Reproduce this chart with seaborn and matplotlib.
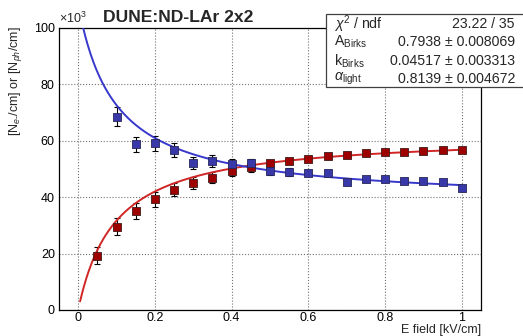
import numpy as np
import pandas as pd
import seaborn as sns
import matplotlib.pyplot as plt
from matplotlib.patches import Rectangle
from matplotlib.ticker import MultipleLocator

# measured points (values in units of 10^3 per cm)
e_red = [0.05, 0.10, 0.15, 0.20, 0.25, 0.30, 0.35, 0.40, 0.45, 0.50,
         0.55, 0.60, 0.65, 0.70, 0.75, 0.80, 0.85, 0.90, 0.95, 1.00]
n_elec = [19.3, 29.5, 35.1, 39.2, 42.6, 45.0, 46.9, 49.3, 50.6, 52.0,
          52.9, 53.7, 54.5, 55.1, 55.6, 55.9, 56.2, 56.5, 56.7, 56.8]
n_elec_err = [3.0, 3.0, 2.7, 2.6, 2.3, 2.1, 1.9, 1.7, 1.5, 1.3,
              1.1, 1.0, 0.9, 0.8, 0.8, 0.7, 0.7, 0.6, 0.6, 0.6]

e_blue = [0.10, 0.15, 0.20, 0.25, 0.30, 0.35, 0.40, 0.45, 0.50, 0.55,
          0.60, 0.65, 0.70, 0.75, 0.80, 0.85, 0.90, 0.95, 1.00]
n_phot = [68.5, 58.7, 59.1, 56.7, 52.2, 52.7, 51.8, 52.0, 49.3, 48.9,
          48.5, 48.5, 45.4, 46.3, 46.3, 45.9, 45.7, 45.3, 43.1]
n_phot_err = [3.4, 2.8, 2.6, 2.4, 2.2, 2.1, 1.9, 1.7, 1.5, 1.3,
              1.1, 1.0, 0.9, 0.8, 0.8, 0.7, 0.7, 0.6, 0.6]

# fit result (Birks-type recombination)
ne_max = 62.3
k_eff = 0.0965
nph_0 = 108.4
nph_slope = 70.3

stat_labels = [r"$\chi^{2}$ / ndf", r"A$_{\rm Birks}$", r"k$_{\rm Birks}$", r"$\alpha_{\rm light}$"]
stat_values = ["23.22 / 35", u"0.7938 \u00b1 0.008069", u"0.04517 \u00b1 0.003313", u"0.8139 \u00b1 0.004672"]

sns.set_style("white")
plt.rcParams['font.family'] = ['Liberation Sans', 'DejaVu Sans']
plt.rcParams['mathtext.fontset'] = 'custom'
plt.rcParams['mathtext.rm'] = 'Liberation Sans'
plt.rcParams['mathtext.it'] = 'Liberation Sans:italic'

W, H = 523, 336
fig = plt.figure(figsize=(W / 100, H / 100), dpi=100)
ax = fig.add_axes([59 / W, 1 - 310 / H, 422 / W, 282 / H])

e_fit = np.linspace(0.005, 1.0, 400)
frac = e_fit / (e_fit + k_eff)
df_fit = pd.DataFrame({"E": e_fit, "ne": ne_max * frac, "nph": nph_0 - nph_slope * frac})

blue_line = (0.22, 0.22, 0.80)
red_line = (0.82, 0.15, 0.15)
blue_mk = (0.22, 0.22, 0.66)
red_mk = (0.62, 0.0, 0.0)

ax.errorbar(e_red, n_elec, yerr=n_elec_err, fmt='none', ecolor='black', elinewidth=0.8, capsize=2, capthick=0.8, zorder=2)
ax.errorbar(e_blue, n_phot, yerr=n_phot_err, fmt='none', ecolor='black', elinewidth=0.8, capsize=2, capthick=0.8, zorder=2)
sns.lineplot(data=df_fit, x="E", y="ne", color=red_line, linewidth=1.4, ax=ax, zorder=3)
sns.lineplot(data=df_fit, x="E", y="nph", color=blue_line, linewidth=1.4, ax=ax, zorder=3)
sns.scatterplot(x=e_red, y=n_elec, marker='s', s=28, color=red_mk, edgecolor=(0.25, 0.1, 0.1), linewidth=0.6, ax=ax, zorder=4)
sns.scatterplot(x=e_blue, y=n_phot, marker='s', s=28, color=blue_mk, edgecolor=(0.15, 0.15, 0.35), linewidth=0.6, ax=ax, zorder=4)

ax.set_xlim(-0.05, 1.05)
ax.set_ylim(0, 100)
ax.set_xlabel("")
ax.set_ylabel("")
ax.xaxis.set_minor_locator(MultipleLocator(0.05))
ax.yaxis.set_minor_locator(MultipleLocator(10))
ax.set_xticks([0, 0.2, 0.4, 0.6, 0.8, 1.0])
ax.set_xticklabels(["0", "0.2", "0.4", "0.6", "0.8", "1"])
ax.set_yticks([0, 20, 40, 60, 80, 100])
ax.set_yticklabels(["0", "20", "40", "60", "80", "100"])
ax.tick_params(which='both', direction='in', top=False, right=False, labelsize=9, colors='black')
ax.tick_params(axis='x', pad=1.5)
ax.tick_params(axis='y', pad=3)
ax.tick_params(which='major', length=7, width=0.8)
ax.tick_params(which='minor', length=4, width=0.8)
ax.grid(True, which='major', linestyle=':', color='0.45', linewidth=0.8)
for sp in ax.spines.values():
    sp.set_color('black')
    sp.set_linewidth(0.9)

fig.text(15 / W, 1 - 26 / H, r"[N$_{e\text{-}}$/cm] or [N$_{ph}$/cm]", rotation=90, ha='center', va='top', fontsize=9)
fig.text(481 / W, 1 - 329.5 / H, "E field [kV/cm]", ha='right', va='center', fontsize=9)
fig.text(59 / W, 1 - 23 / H, r"$\times$10$^{3}$", ha='left', va='baseline', fontsize=9)
fig.text(178 / W, 1 - 17.5 / H, "DUNE:ND-LAr 2x2", ha='center', va='center', fontsize=12.6, fontweight='bold')

fig.patches.append(Rectangle((326 / W, 1 - 87 / H), 210 / W, 73 / H, transform=fig.transFigure,
                             facecolor='white', edgecolor='0.25', linewidth=0.9, zorder=5))
rows_y = [24, 42, 61, 79]
for lab, val, yy in zip(stat_labels, stat_values, rows_y):
    fig.text(334 / W, 1 - yy / H, lab, ha='left', va='center', fontsize=10.2, zorder=6)
    fig.text(515 / W, 1 - yy / H, val, ha='right', va='center', fontsize=10.2, zorder=6)

fig.savefig("out.png", dpi=100)
